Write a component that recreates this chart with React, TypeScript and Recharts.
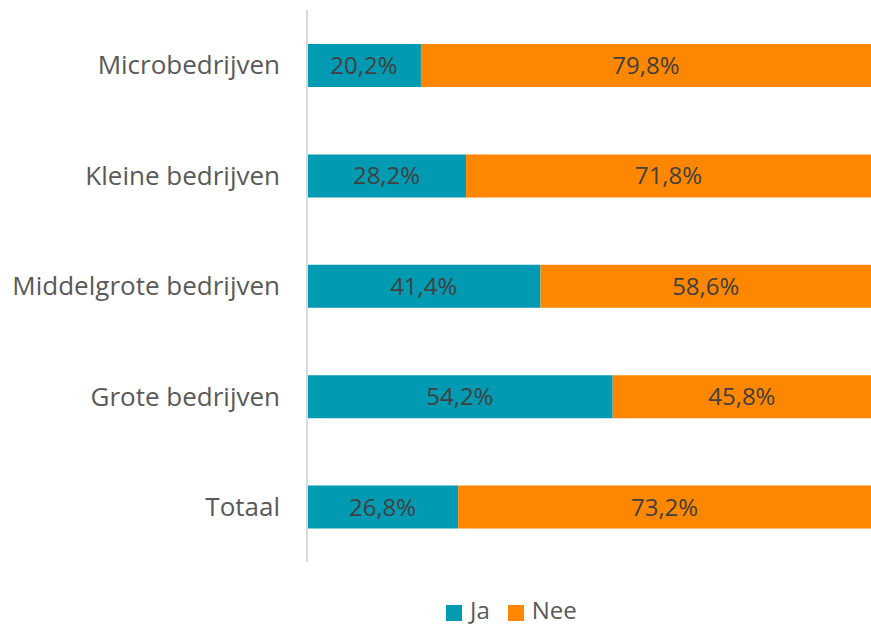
import { BarChart, Bar, XAxis, YAxis, Legend, LabelList } from "recharts";

const categories = ["Microbedrijven", "Kleine bedrijven", "Middelgrote bedrijven", "Grote bedrijven", "Totaal"];
const ja = [20.2, 28.2, 41.4, 54.2, 26.8];
const nee = [79.8, 71.8, 58.6, 45.8, 73.2];

const data = categories.map((name, i) => ({ name, Ja: ja[i], Nee: nee[i] }));

const FONT = "'Open Sans', 'Noto Sans', sans-serif";
const fmt = (v: unknown) => `${Number(v).toFixed(1).replace(".", ",")}%`;

export default function App() {
  return (
    <div style={{ position: "absolute", left: 0, top: 0, width: 871, height: 628, background: "#fff", fontFamily: FONT }}>
      <BarChart
        width={871}
        height={628}
        data={data}
        layout="vertical"
        barSize={43}
        margin={{ top: 10, right: 0, left: 0, bottom: 38 }}
      >
        <XAxis type="number" domain={[0, 100]} hide />
        <YAxis
          type="category"
          dataKey="name"
          width={307}
          axisLine={{ stroke: "#d9d9d9", strokeWidth: 2 }}
          tickLine={false}
          tickMargin={21}
          tick={{ fill: "#595959", fontSize: 26, fontFamily: FONT }}
        />
        <Legend
          verticalAlign="bottom"
          align="left"
          iconType="square"
          iconSize={16}
          wrapperStyle={{ left: 446, top: 596, width: 200, lineHeight: "28px", fontSize: 24, fontFamily: FONT, color: "#595959" }}
          formatter={(v: string) => <span style={{ color: "#595959", marginLeft: 4, marginRight: 8 }}>{v}</span>}
        />
        <Bar dataKey="Ja" stackId="a" fill="#009BB2" isAnimationActive={false}>
          <LabelList dataKey="Ja" position="center" formatter={fmt} fill="#404040" fontSize={24} fontFamily={FONT} />
        </Bar>
        <Bar dataKey="Nee" stackId="a" fill="#FF8700" isAnimationActive={false}>
          <LabelList dataKey="Nee" position="center" formatter={fmt} fill="#404040" fontSize={24} fontFamily={FONT} />
        </Bar>
      </BarChart>
    </div>
  );
}
